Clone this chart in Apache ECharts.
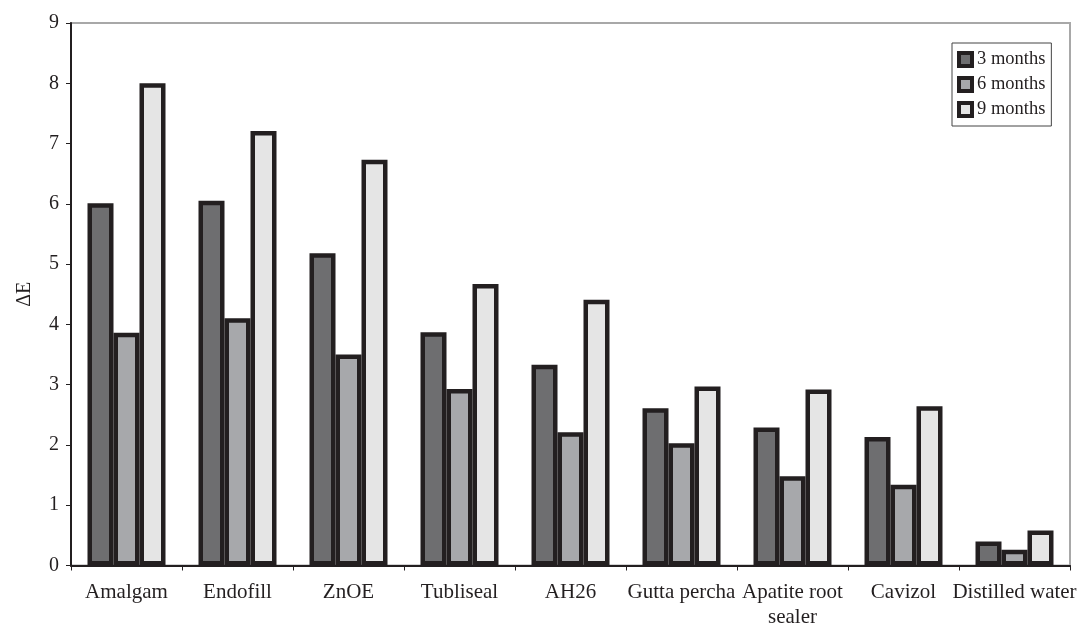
<!DOCTYPE html>
<html>
<head>
<meta charset="utf-8">
<script src="https://cdn.jsdelivr.net/npm/echarts@6/dist/echarts.min.js"></script>
<style>html,body{margin:0;padding:0;background:#fff}#c{width:1087px;height:632px}</style>
</head>
<body>
<div id="c"></div>
<script>
var categories = ['Amalgam', 'Endofill', 'ZnOE', 'Tubliseal', 'AH26', 'Gutta percha', 'Apatite root\nsealer', 'Cavizol', 'Distilled water'];
var months3 = [6.01, 6.05, 5.18, 3.87, 3.33, 2.61, 2.29, 2.13, 0.4];
var months6 = [3.86, 4.1, 3.5, 2.93, 2.21, 2.03, 1.48, 1.34, 0.26];
var months9 = [8.0, 7.21, 6.73, 4.67, 4.41, 2.97, 2.92, 2.64, 0.58];
var seriesNames = ['3 months', '6 months', '9 months'];
var yTicks = [0, 1, 2, 3, 4, 5, 6, 7, 8, 9];

var FONT = '"Liberation Serif", "DejaVu Serif", serif';
var colors = ['#6e6e70', '#a7a8ab', '#e5e5e5'];
var borderC = '#231f20';

function mkSeries(name, data, color) {
  return {
    name: name, type: 'bar', data: data, barWidth: 26, barGap: '0%',
    itemStyle: { color: color, borderColor: borderC, borderWidth: 4.5 },
    emphasis: { disabled: true }
  };
}

var chart = echarts.init(document.getElementById('c'), null, { renderer: 'canvas' });
chart.setOption({
  animation: false,
  backgroundColor: '#fff',
  grid: { left: 71, right: 17, top: 23, bottom: 66.5, show: true, borderColor: '#a8a8a8', borderWidth: 2, backgroundColor: 'transparent' },
  legend: {
    orient: 'vertical', left: 952, top: 43,
    data: seriesNames.map(function (n, i) {
      return { name: n, itemStyle: { color: colors[i], borderColor: borderC, borderWidth: 4 } };
    }),
    icon: 'rect', itemWidth: 13, itemHeight: 13, itemGap: 6,
    padding: [7, 6, 7, 5],
    backgroundColor: '#fff', borderColor: '#444', borderWidth: 1,
    textStyle: { fontFamily: FONT, fontSize: 18.5, color: '#231f20', lineHeight: 18, padding: [0, 0, 0, 0] }
  },
  xAxis: {
    type: 'category', data: categories, boundaryGap: true,
    axisLine: { lineStyle: { color: borderC, width: 2 } },
    axisTick: { show: true, length: 5, lineStyle: { color: borderC, width: 1 }, alignWithLabel: false },
    axisLabel: { fontFamily: FONT, fontSize: 21, color: '#231f20', margin: 14, lineHeight: 25, interval: 0 }
  },
  yAxis: {
    type: 'value', min: yTicks[0], max: yTicks[yTicks.length - 1], interval: 1,
    name: 'ΔE', nameLocation: 'middle', nameGap: 36, nameRotate: 90,
    nameTextStyle: { fontFamily: FONT, fontSize: 20, color: '#231f20' },
    axisLine: { show: true, lineStyle: { color: borderC, width: 2 } },
    axisTick: { show: true, length: 5, lineStyle: { color: borderC, width: 1 } },
    axisLabel: { fontFamily: FONT, fontSize: 20, color: '#231f20', margin: 12 },
    splitLine: { show: false }
  },
  series: [
    mkSeries(seriesNames[0], months3, colors[0]),
    mkSeries(seriesNames[1], months6, colors[1]),
    mkSeries(seriesNames[2], months9, colors[2])
  ]
});
</script>
</body>
</html>
